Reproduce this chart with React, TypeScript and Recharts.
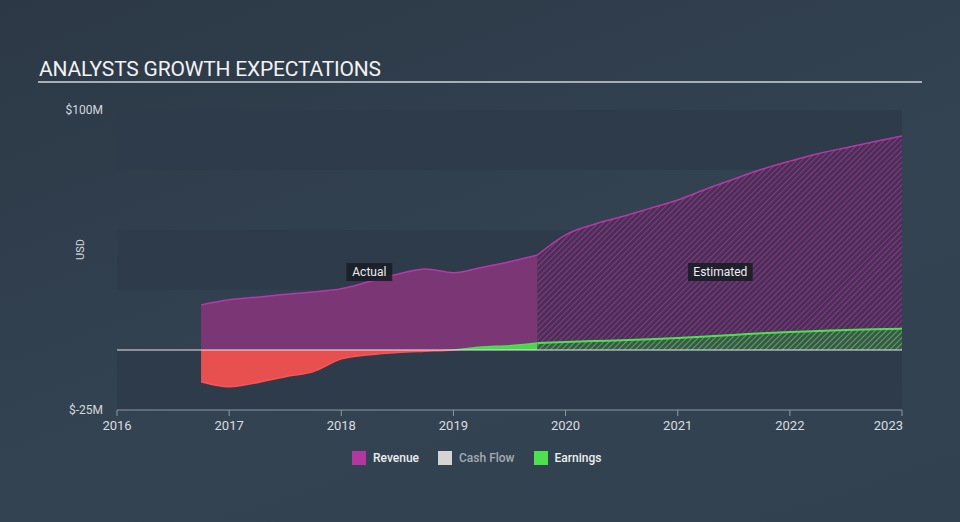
import {
  ComposedChart, Area, XAxis, YAxis, ReferenceLine, ReferenceArea, ReferenceDot,
} from 'recharts'

// quarter points, in years
const actualYears = [2016.75, 2017, 2017.25, 2017.5, 2017.75, 2018, 2018.25, 2018.5, 2018.75, 2019, 2019.25, 2019.5, 2019.75]
const actualRevenue = [18.8, 20.9, 22.0, 23.2, 24.2, 25.5, 28.5, 31.6, 33.8, 32.2, 34.4, 36.8, 39.6]
const actualEarnings = [-13.2, -15.3, -13.6, -11.1, -9.0, -3.7, -2.0, -1.0, -0.5, 0.0, 1.2, 1.8, 2.9]

const estYears = [2019.75, 2020, 2020.25, 2020.5, 2020.75, 2021, 2021.25, 2021.5, 2021.75, 2022, 2022.25, 2022.5, 2022.75, 2023]
const estRevenue = [39.6, 48.0, 52.3, 55.5, 59.0, 62.5, 67.0, 71.2, 75.3, 78.7, 81.8, 84.3, 86.8, 89.2]
const estEarnings = [2.9, 3.3, 3.7, 4.1, 4.5, 5.0, 5.6, 6.3, 7.0, 7.5, 7.9, 8.3, 8.6, 8.9]

const xTicks = [2016, 2017, 2018, 2019, 2020, 2021, 2022, 2023]
const yTicks = [-25, 100]
const bands: [number, number][] = [[75, 100], [25, 50], [-25, 0]]
const phaseLabels = [
  { x: 2018.25, y: 32.5, text: 'Actual' },
  { x: 2021.38, y: 32.5, text: 'Estimated' },
]

const legendItems = [
  { name: 'Revenue', color: '#b0389f', dim: false },
  { name: 'Cash Flow', color: '#d4d4d4', dim: true },
  { name: 'Earnings', color: '#4fe04f', dim: false },
]

const FONT = 'Roboto, "Open Sans", sans-serif'

const rows = [
  ...actualYears.map((t, i) => ({
    t,
    revA: actualRevenue[i],
    earnA: actualEarnings[i],
    revE: null as number | null,
    earnE: null as number | null,
  })),
]
estYears.forEach((t, i) => {
  const hit = rows.find(r => r.t === t)
  if (hit) {
    hit.revE = estRevenue[i]
    hit.earnE = estEarnings[i]
  } else {
    rows.push({ t, revA: null as any, earnA: null as any, revE: estRevenue[i], earnE: estEarnings[i] })
  }
})

const eMax = Math.max(...actualEarnings)
const eMin = Math.min(...actualEarnings)
const zeroOff = eMax / (eMax - eMin)

function XTick({ x, y, payload }: any) {
  const last = payload.value === xTicks[xTicks.length - 1]
  return (
    <text x={last ? x + 1 : x} y={y + 12} textAnchor={last ? 'end' : 'middle'}
      fill="#d9dde1" fontSize={13} fontFamily={FONT}>
      {payload.value}
    </text>
  )
}

function PhaseBox({ cx, cy, text }: any) {
  const w = text.length * 6.3 + 8
  return (
    <g>
      <rect x={cx - w / 2} y={cy - 9} width={w} height={18} fill="#1b1e27" fillOpacity={0.9} />
      <text x={cx} y={cy + 4} textAnchor="middle" fill="#eceef0" fontSize={12} fontFamily={FONT}>{text}</text>
    </g>
  )
}

export default function App() {
  return (
    <div style={{
      position: 'fixed', left: 0, top: 0, width: 960, height: 522, overflow: 'hidden',
      background: 'linear-gradient(160deg, #2c3846 0%, #334352 55%, #324150 100%)',
      fontFamily: FONT,
    }}>
      <div style={{ position: 'absolute', left: 39, top: 57, fontSize: 21, color: '#f1f2f4', letterSpacing: -0.2 }}>
        ANALYSTS GROWTH EXPECTATIONS
      </div>
      <div style={{ position: 'absolute', left: 38, top: 81, width: 884, height: 2, background: '#a7aeb6' }} />

      <ComposedChart width={960} height={522} data={rows}
        margin={{ top: 110, right: 58, bottom: 82, left: 0 }}>
        <defs>
          <pattern id="hatchRev" width="4" height="4" patternUnits="userSpaceOnUse" patternTransform="rotate(45)">
            <rect width="4" height="4" fill="#4a2f56" />
            <line x1="0" y1="0" x2="0" y2="4" stroke="#883987" strokeWidth={2} />
          </pattern>
          <pattern id="hatchEarn" width="4" height="4" patternUnits="userSpaceOnUse" patternTransform="rotate(45)">
            <rect width="4" height="4" fill="#3a584a" />
            <line x1="0" y1="0" x2="0" y2="4" stroke="#5aa85c" strokeWidth={2} />
          </pattern>
          <linearGradient id="earnSplit" x1="0" y1="0" x2="0" y2="1">
            <stop offset={zeroOff} stopColor="#4fe04f" />
            <stop offset={zeroOff} stopColor="#ff5252" />
          </linearGradient>
          <linearGradient id="earnFill" x1="0" y1="0" x2="0" y2="1">
            <stop offset={zeroOff} stopColor="#4cd64c" />
            <stop offset={zeroOff} stopColor="#e84f4f" />
          </linearGradient>
        </defs>

        {bands.map(([a, b]) => (
          <ReferenceArea key={a} y1={a} y2={b} fill="#2e3b4a" fillOpacity={1} stroke="none" ifOverflow="extendDomain" />
        ))}

        <XAxis dataKey="t" type="number" domain={[2016, 2023]} ticks={xTicks}
          allowDataOverflow height={30} tick={<XTick />}
          axisLine={{ stroke: '#8e99a4', strokeWidth: 1 }}
          tickLine={{ stroke: '#8e99a4' }} tickSize={6} />
        <YAxis type="number" domain={[-25, 100]} ticks={yTicks} width={117}
          axisLine={false} tickLine={false} tickSize={0} tickMargin={14}
          tickFormatter={(v: number) => `$${v}M`}
          tick={{ fill: '#d5d9dd', fontSize: 12, fontFamily: FONT }}
          label={{ value: 'USD', angle: -90, position: 'insideLeft', offset: 80, fill: '#d5d9dd', fontSize: 11, fontFamily: FONT }} />

        <Area type="monotone" dataKey="revA" stroke="#b43aa8" strokeWidth={1.5}
          fill="#7b3775" fillOpacity={1} dot={false} activeDot={false} connectNulls={false}
          isAnimationActive={false} />
        <Area type="monotone" dataKey="revE" stroke="#b43aa8" strokeWidth={1.5}
          fill="url(#hatchRev)" fillOpacity={1} dot={false} activeDot={false}
          isAnimationActive={false} />
        <Area type="monotone" dataKey="earnA" stroke="url(#earnSplit)" strokeWidth={1.5}
          fill="url(#earnFill)" fillOpacity={1} dot={false} activeDot={false} baseValue={0}
          isAnimationActive={false} />
        <Area type="monotone" dataKey="earnE" stroke="#4fe04f" strokeWidth={2}
          fill="url(#hatchEarn)" fillOpacity={1} dot={false} activeDot={false} baseValue={0}
          isAnimationActive={false} />

        <ReferenceLine y={0} stroke="#e6e8ea" strokeWidth={1.2} />

        {phaseLabels.map(p => (
          <ReferenceDot key={p.text} x={p.x} y={p.y} r={0}
            shape={(props: any) => <PhaseBox cx={props.cx} cy={props.cy} text={p.text} />} />
        ))}
      </ComposedChart>

      <div style={{ position: 'absolute', left: 352, top: 451, display: 'flex', alignItems: 'center', fontSize: 12, fontWeight: 500 }}>
        {legendItems.map(it => (
          <div key={it.name} style={{ display: 'flex', alignItems: 'center', marginRight: 19 }}>
            <span style={{ width: 14, height: 14, background: it.color, display: 'inline-block', marginRight: 7 }} />
            <span style={{ color: it.dim ? '#a3abb4' : '#eceef0' }}>{it.name}</span>
          </div>
        ))}
      </div>
    </div>
  )
}
